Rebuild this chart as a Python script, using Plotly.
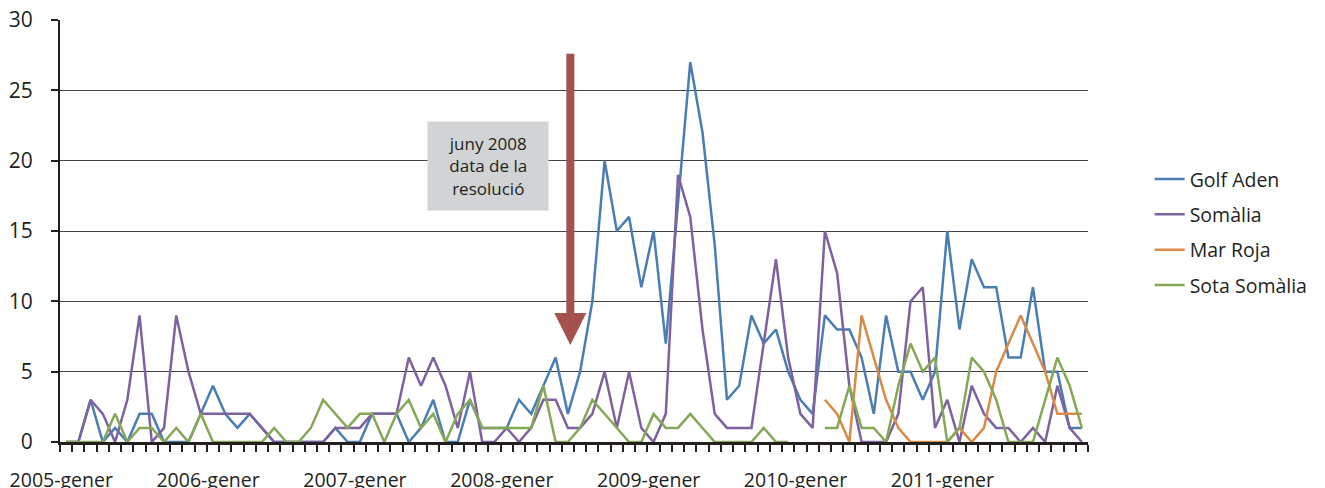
import plotly.graph_objects as go

# Mesos (gener 2005 - desembre 2011)
anys = list(range(2005, 2012))
mesos = ["gener", "febrer", "març", "abril", "maig", "juny", "juliol",
         "agost", "setembre", "octubre", "novembre", "desembre"]
categories = [f"{a}-{m}" for a in anys for m in mesos]

# Atacs per mes i zona
golf_aden = [0, 0, 3, 0, 1, 0, 2, 2, 0, 0, 0, 2,
             4, 2, 1, 2, 1, 0, 0, 0, 0, 0, 1, 0,
             0, 2, 2, 2, 0, 1, 3, 0, 0, 3, 1, 1,
             1, 3, 2, 4, 6, 2, 5, 10, 20, 15, 16, 11,
             15, 7, 17, 27, 22, 14, 3, 4, 9, 7, 8, 5,
             3, 2, 9, 8, 8, 6, 2, 9, 5, 5, 3, 5,
             15, 8, 13, 11, 11, 6, 6, 11, 5, 5, 1, 1]
somalia = [0, 0, 3, 2, 0, 3, 9, 0, 1, 9, 5, 2,
           2, 2, 2, 2, 1, 0, 0, 0, 0, 0, 1, 1,
           1, 2, 2, 2, 6, 4, 6, 4, 1, 5, 0, 0,
           1, 0, 1, 3, 3, 1, 1, 2, 5, 1, 5, 1,
           0, 2, 19, 16, 8, 2, 1, 1, 1, 7, 13, 6,
           2, 1, 15, 12, 4, 0, 0, 0, 2, 10, 11, 1,
           3, 0, 4, 2, 1, 1, 0, 1, 0, 4, 1, 0]
mar_roja = [None] * 62 + [3, 2, 0, 9, 6, 3, 1, 0, 0, 0,
                          0, 1, 0, 1, 5, 7, 9, 7, 5, 2, 2, 2]
sota_somalia = [0, 0, 0, 0, 2, 0, 1, 1, 0, 1, 0, 2,
                0, 0, 0, 0, 0, 1, 0, 0, 1, 3, 2, 1,
                2, 2, 0, 2, 3, 1, 2, 0, 2, 3, 1, 1,
                1, 1, 1, 4, 0, 0, 1, 3, 2, 1, 0, 0,
                2, 1, 1, 2, 1, 0, 0, 0, 0, 1, 0, 0,
                None, None, 1, 1, 4, 1, 1, 0, 4, 7, 5, 6,
                0, 1, 6, 5, 3, 0, 0, 0, 3, 6, 4, 1]

series = [
    ("Golf Aden", golf_aden, "#4A7DB4"),
    ("Somàlia", somalia, "#7E62A0"),
    ("Mar Roja", mar_roja, "#DA8A45"),
    ("Sota Somàlia", sota_somalia, "#85A857"),
]

x = list(range(len(categories)))
text_color = "#231F20"

fig = go.Figure()

for i, (name, values, color) in enumerate(series):
    fig.add_trace(
        go.Scatter(
            x=x,
            y=values,
            mode="lines",
            name=name,
            legendgroup=str(i),
            line=dict(color=color, width=2.5),
            text=categories,
            hovertemplate="%{text}: %{y}<extra>" + name + "</extra>",
        )
    )

# Fletxa de la resolució (juny 2008)
juny_2008 = categories.index("2008-juny")
fig.add_annotation(
    x=juny_2008 + 0.2, y=6.9, ax=juny_2008 + 0.2, ay=27.7,
    xref="x", yref="y", axref="x", ayref="y",
    text="", showarrow=True,
    arrowhead=2, arrowsize=0.8, arrowwidth=8, arrowcolor="#A5524F",
)
fig.add_annotation(
    x=34.5, y=19.6, xref="x", yref="y",
    text="juny 2008<br>data de la<br>resolució",
    showarrow=False, bgcolor="#D1D3D4",
    width=118, height=86,
    font=dict(size=17, color=text_color),
)

gener_idx = [i for i, c in enumerate(categories) if c.endswith("-gener")]

fig.update_xaxes(
    range=[-0.5, len(categories) - 0.5],
    # etiquetes lleugerament a l'esquerra, com a l'original
    tickvals=[i - 0.4 for i in gener_idx],
    ticktext=[categories[i] for i in gener_idx],
    ticks="", ticklen=0,
    ticklabelstandoff=19,
    ticklabeloverflow="allow",
    minor=dict(tick0=-0.5, dtick=1, ticks="outside", ticklen=7,
               tickwidth=2, tickcolor="#231F20"),
    showgrid=False,
    showline=True, linecolor="#231F20", linewidth=3,
    tickfont=dict(size=19.5, color=text_color),
    layer="below traces",
    automargin=False,
    zeroline=False,
)
fig.update_yaxes(
    range=[0, 30],
    dtick=5,
    ticks="outside", ticklen=7, tickwidth=1.5, tickcolor="#231F20",
    ticklabelstandoff=14,
    ticklabeloverflow="allow",
    showgrid=True, gridcolor="#444444", gridwidth=1,
    showline=True, linecolor="#231F20", linewidth=2,
    tickfont=dict(size=21, color=text_color),
    layer="below traces",
    automargin=False,
    zeroline=False,
)

fig.update_layout(
    width=1317,
    height=480,
    margin=dict(l=52, r=237, t=12, b=46),
    plot_bgcolor="white",
    paper_bgcolor="white",
    font=dict(family="Open Sans, Noto Sans, sans-serif", color=text_color),
    legend=dict(
        x=1.060, y=0.497, xanchor="left", yanchor="middle",
        font=dict(size=19.5, color=text_color),
        tracegroupgap=7,
        bgcolor="rgba(0,0,0,0)",
    ),
)

fig.write_html("out.html")
